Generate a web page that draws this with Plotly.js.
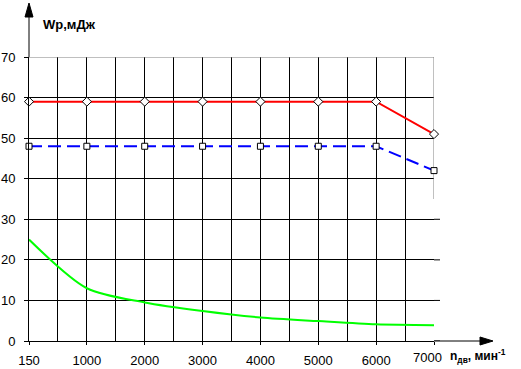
<!DOCTYPE html>
<html><head><meta charset="utf-8">
<script src="https://cdn.plot.ly/plotly-3.0.1.min.js"></script>
<style>body{margin:0;padding:0;background:#fff}#chart{width:521px;height:369px}</style>
</head><body><div id="chart"></div>
<script>
// Data
const rpmLabels = ['150','1000','2000','3000','4000','5000','6000','7000'];
const wpRed   = [59, 59, 59, 59, 59, 59, 59, 51];
const wpBlue  = [48, 48, 48, 48, 48, 48, 48, 42];
const wpGreen = [25, 13, 9.5, 7.4, 5.8, 4.9, 4.1, 3.9];
const yTicks  = [0, 10, 20, 30, 40, 50, 60, 70];

const xIdx = rpmLabels.map((_, i) => i);
const lastIdx = xIdx[xIdx.length - 1];
// last label is drawn separately, nudged left as in the original
const tickText = rpmLabels.map((t, i) => i === lastIdx ? '' : t);

// plot-area geometry (px)
const L = 29, T = 57, W = 405, H = 284, B = T + H;
const px = p => (p - L) / W;
const py = p => (B - p) / H;

const traces = [
  {x: xIdx, y: wpGreen, mode: 'lines', cliponaxis: false, line: {color: '#00ff00', width: 2, shape: 'spline', smoothing: 0.8}, hoverinfo: 'skip'},
  {x: xIdx, y: wpBlue, mode: 'lines+markers', cliponaxis: false, line: {color: '#0000ff', width: 2, dash: '13px,6px'},
   marker: {symbol: 'square', size: 6, color: '#fff', line: {color: '#000', width: 1}}},
  {x: xIdx, y: wpRed, mode: 'lines+markers', cliponaxis: false, line: {color: '#ff0000', width: 2},
   marker: {symbol: 'diamond', size: 7, color: '#fff', line: {color: '#000', width: 1}}}
];

const shapes = [
  {type: 'line', xref: 'x', yref: 'y', x0: 0, x1: lastIdx, y0: 70, y1: 70, line: {color: '#808080', width: 1}, layer: 'between'},
  {type: 'line', xref: 'x', yref: 'y', x0: lastIdx, x1: lastIdx, y0: 35, y1: 70, line: {color: '#808080', width: 1}, layer: 'between'},
  {type: 'line', xref: 'paper', yref: 'paper', x0: 0, x1: 0, y0: 1, y1: py(12), line: {color: '#000', width: 1}},
  {type: 'path', xref: 'paper', yref: 'paper',
   path: `M ${px(29)} ${py(3)} L ${px(25)} ${py(17)} L ${px(33)} ${py(17)} Z`,
   fillcolor: '#000', line: {color: '#000', width: 1}},
  {type: 'line', xref: 'paper', yref: 'paper', x0: 1, x1: px(485), y0: 0, y1: 0, line: {color: '#000', width: 1}},
  {type: 'path', xref: 'paper', yref: 'paper',
   path: `M ${px(493)} ${py(341)} L ${px(480)} ${py(337)} L ${px(480)} ${py(345)} Z`,
   fillcolor: '#000', line: {color: '#000', width: 1}}
];
[0, 10, 20, 30].forEach(v => shapes.push({type: 'line', xref: 'paper', yref: 'y', x0: 1, x1: px(440), y0: v, y1: v, line: {color: '#000', width: 1}}));

const layout = {
  width: 521, height: 369,
  margin: {l: L, r: 521 - L - W, t: T, b: 369 - B, pad: 0},
  paper_bgcolor: '#fff', plot_bgcolor: '#fff',
  showlegend: false,
  font: {family: 'Liberation Sans, Arial, sans-serif', size: 13, color: '#000'},
  xaxis: {
    range: [0, lastIdx], tickmode: 'array', tickvals: xIdx, ticktext: tickText,
    showgrid: true, gridcolor: '#000', gridwidth: 1,
    minor: {tickmode: 'linear', tick0: 0, dtick: 0.5, showgrid: true, gridcolor: '#000', gridwidth: 1, ticks: ''},
    showline: true, linecolor: '#000', linewidth: 1,
    ticks: 'outside', ticklen: 3, tickcolor: '#000',
    zeroline: false, fixedrange: true, ticklabelstandoff: 4
  },
  yaxis: {
    range: [0, 70], tickmode: 'array', tickvals: yTicks,
    showgrid: true, gridcolor: '#000', gridwidth: 1,
    showline: true, linecolor: '#000', linewidth: 1,
    ticks: 'outside', ticklen: 4, tickcolor: '#000',
    zeroline: false, fixedrange: true, ticklabelstandoff: 6
  },
  shapes: shapes,
  annotations: [
    {xref: 'x', yref: 'paper', x: lastIdx, y: py(357), xanchor: 'center', yanchor: 'middle', xshift: -7, showarrow: false,
     text: rpmLabels[lastIdx], font: {size: 13, color: '#000'}},
    {xref: 'paper', yref: 'paper', x: px(41), y: py(24), xanchor: 'left', yanchor: 'middle', showarrow: false,
     text: '<b>Wp,мДж</b>', font: {size: 13, color: '#000'}},
    {xref: 'paper', yref: 'paper', x: px(448), y: py(356), xanchor: 'left', yanchor: 'middle', showarrow: false,
     text: '<b>n<sub>дв</sub>, мин<sup>-1</sup></b>', font: {size: 12, color: '#000'}}
  ]
};

Plotly.newPlot('chart', traces, layout, {displayModeBar: false, staticPlot: true});
</script>
</body></html>
